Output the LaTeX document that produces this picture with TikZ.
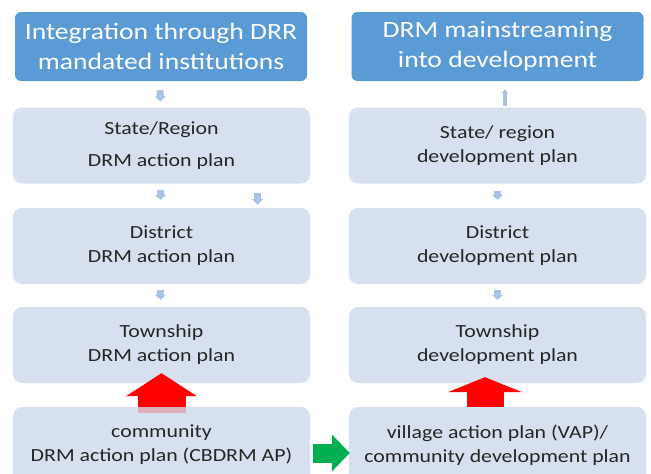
\documentclass[tikz,border=0pt]{standalone}
\usepackage{fontspec}
\setmainfont{Carlito}
\newfontfamily\widefont[FakeStretch=1.18]{Carlito}
\usepackage{xcolor}
\usetikzlibrary{arrows.meta,calc,positioning}

\definecolor{headblue}{RGB}{91,155,213}
\definecolor{boxblue}{RGB}{214,224,238}
\definecolor{linkblue}{RGB}{168,195,230}
\definecolor{upred}{RGB}{255,0,0}
\definecolor{sidegreen}{RGB}{0,176,80}
\definecolor{plantext}{RGB}{38,38,38}

\begin{document}
\begin{tikzpicture}[x=1pt,y=-1pt]
	\tikzstyle{head} = [rectangle, rounded corners=6pt, fill=headblue, text=white, inner sep=0pt, minimum width=292pt, minimum height=69pt, align=center, font=\widefont\fontsize{23.4}{30}\selectfont]
	\tikzstyle{plan} = [rectangle, rounded corners=9pt, fill=boxblue, text=plantext, inner sep=0pt, minimum width=297pt, minimum height=76pt, align=center, font=\widefont\fontsize{18.5}{24}\selectfont]
	\tikzstyle{link} = [draw=linkblue, line width=7pt, -{Triangle[width=11pt,length=5pt]}]
	\tikzstyle{bigup} = [draw=upred]
\useasboundingbox (0,0) rectangle (651,474);
\clip (0,0) rectangle (651,474);
\node[head] (drr) at (161,46.5) {Integration through DRR\\mandated institutions};
\node[head] (dev) at (497.5,46.5) {DRM mainstreaming\\into development};
\node[plan] (sr) at (161.5,145.5) {State/Region\\[8pt]DRM action plan};
\node[plan] (srdev) at (497.5,145.5) {State/ region\\development plan};
\node[plan] (dist) at (161.5,246) {District\\DRM action plan};
\node[plan] (distdev) at (497.5,246) {District\\development plan};
\node[plan] (town) at (161.5,345) {Township\\DRM action plan};
\node[plan] (towndev) at (497.5,345) {Township\\development plan};
\node[plan] (comm) at (161.5,445) {community\\DRM action plan (CBDRM AP)};
\node[plan] (vap) at (497.5,445) {village action plan (VAP)/\\community development plan};
	% small links
	\path[draw][link] ($(drr.south)+(-1,9)$) -- ($(sr.north)+(-1,-6)$);
	\path[draw][link] ($(sr.south)+(-1,6)$) -- ($(dist.north)+(-1,-8)$);
	\path[draw][link, -{Triangle[width=11pt,length=6pt]}] ($(sr.south)+(96,9)$) -- ($(dist.north)+(96,-3)$);
	\path[draw][link] ($(dist.south)+(-1,6)$) -- ($(town.north)+(-1,-7)$);
	\path[draw][link, line width=4pt, -{Triangle[width=6pt,length=4pt]}] ($(srdev.north)+(7.5,-1)$) -- ($(dev.south)+(7.5,8)$);
	\path[draw][link] ($(srdev.south)+(0,7)$) -- ($(distdev.north)+(0,-8)$);
	\path[draw][link] ($(distdev.south)+(0,6)$) -- ($(towndev.north)+(0,-7)$);
	% big arrows
	\path[fill][upred!22!boxblue] ($(comm.north)+(-24,0)$) rectangle ($(comm.north)+(24,6)$);
	\path[draw][bigup, line width=48pt, -{Triangle[width=70pt,length=23pt]}] (comm.north) -- ($(town.south)+(0,-10)$);
	\path[draw][bigup, line width=37pt, -{Triangle[width=74pt,length=15pt]}] ($(vap.north)+(-12.5,0)$) -- ($(towndev.south)+(-12.5,-6)$);
	\path[draw][draw=sidegreen, line width=19pt, -{Triangle[width=36pt,length=18pt]}] ($(comm.east)+(3,8)$) -- ($(vap.west)+(1,8)$);
\end{tikzpicture}
\end{document}
